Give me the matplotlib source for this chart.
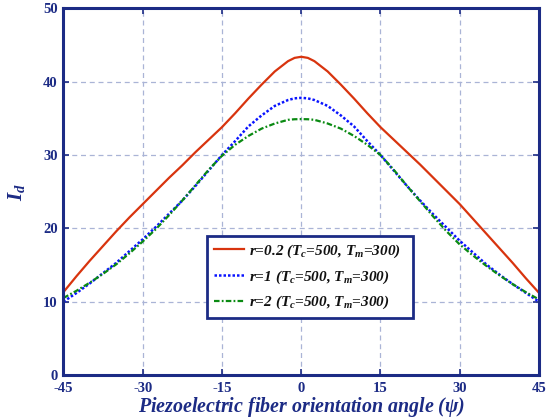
import numpy as np
import matplotlib
matplotlib.use("Agg")
import matplotlib.pyplot as plt

angles = [-45, -42.5, -40, -37.5, -35, -32.5, -30, -27.5, -25, -22.5, -20, -17.5, -15,
          -12.5, -10, -7.5, -5, -2.5, -1.25, 0, 1.25, 2.5, 5, 7.5, 10, 12.5, 15, 17.5,
          20, 22.5, 25, 27.5, 30, 32.5, 35, 37.5, 40, 42.5, 45]

r02 = [11.3, 13.5, 15.6, 17.6, 19.6, 21.5, 23.3, 25.1, 26.9, 28.6, 30.4, 32.1, 33.8,
       35.7, 37.7, 39.6, 41.4, 42.8, 43.25, 43.4, 43.25, 42.8, 41.4, 39.6, 37.7, 35.7,
       33.8, 32.1, 30.4, 28.7, 26.9, 25.1, 23.3, 21.3, 19.3, 17.3, 15.3, 13.2, 11.2]

r1 = [10.0, 11.2, 12.5, 13.9, 15.3, 16.9, 18.5, 20.2, 22.0, 23.8, 25.8, 27.9, 30.0,
      31.9, 33.9, 35.4, 36.7, 37.5, 37.73, 37.8, 37.73, 37.5, 36.7, 35.4, 33.9, 31.9,
      30.0, 27.9, 25.8, 23.8, 21.9, 20.1, 18.3, 16.7, 15.1, 13.7, 12.4, 11.2, 10.0]

r2 = [10.5, 11.5, 12.6, 13.8, 15.1, 16.6, 18.2, 19.9, 21.8, 23.8, 25.9, 28.0, 29.9,
      31.4, 32.6, 33.6, 34.3, 34.8, 34.88, 34.9, 34.88, 34.8, 34.3, 33.6, 32.6, 31.4,
      30.0, 28.0, 25.8, 23.7, 21.6, 19.6, 17.8, 16.3, 14.9, 13.6, 12.4, 11.3, 10.3]

labels = [r"$r$=0.2 ($T_c$=500, $T_m$=300)",
          r"$r$=1 ($T_c$=500, $T_m$=300)",
          r"$r$=2 ($T_c$=500, $T_m$=300)"]
xticks = [-45, -30, -15, 0, 15, 30, 45]
yticks = [0, 10, 20, 30, 40, 50]

plt.rcParams['font.family'] = ['Liberation Serif', 'DejaVu Serif']
plt.rcParams['axes.unicode_minus'] = False
plt.rcParams['mathtext.fontset'] = 'custom'
plt.rcParams['mathtext.it'] = 'Liberation Serif:italic:bold'
plt.rcParams['mathtext.rm'] = 'Liberation Serif:italic:bold'
plt.rcParams['mathtext.bf'] = 'Liberation Serif:italic:bold'

navy = '#1c2b85'
fig = plt.figure(figsize=(5.53, 4.19), dpi=100)
ax = fig.add_axes([0.1147, 0.105, 0.8600, 0.875])

ax.plot(angles, r02, color='#d8340e', lw=1.6, label=labels[0])
ax.plot(angles, r1, color='#0a14ff', lw=1.8, ls=(0, (1, 0.8)), label=labels[1])
ax.plot(angles, r2, color='#0a8a12', lw=1.6, ls=(0, (2.5, 1, 0.8, 1)), label=labels[2])

ax.set_xlim(-45, 45)
ax.set_ylim(0, 50)
ax.set_xticks(xticks)
ax.set_yticks(yticks)
ax.grid(True, color='#aab4d6', ls=(0, (4, 3)), lw=0.9)
ax.tick_params(direction='in', top=True, right=True, length=4, width=1.2,
               colors=navy, labelsize=10.5)
ax.tick_params(axis='x', pad=5)
ax.tick_params(axis='y', pad=4)
for lab in ax.get_xticklabels() + ax.get_yticklabels():
    lab.set_fontweight('bold')
    lab.set_color(navy)
for s in ax.spines.values():
    s.set_color(navy)
    s.set_linewidth(2.2)

ax.set_xlabel(r"Piezoelectric fiber orientation angle ($\psi$)", fontsize=14.4,
              fontweight='bold', fontstyle='italic', color=navy, labelpad=0)
ax.set_ylabel(r"$I_d$", fontsize=15, color=navy, labelpad=12)

leg = ax.legend(loc='lower left', bbox_to_anchor=(0.302, 0.155, 0.433, 0.221),
                mode='expand', fancybox=False, framealpha=1, edgecolor=navy,
                prop={'weight': 'bold', 'style': 'italic', 'size': 11},
                handlelength=2.0, handletextpad=0.3, borderpad=0.45,
                labelspacing=0.55, borderaxespad=0)
leg.get_frame().set_linewidth(2.0)
for t in leg.get_texts():
    t.set_color('#111111')

fig.savefig('out.png', dpi=100)
